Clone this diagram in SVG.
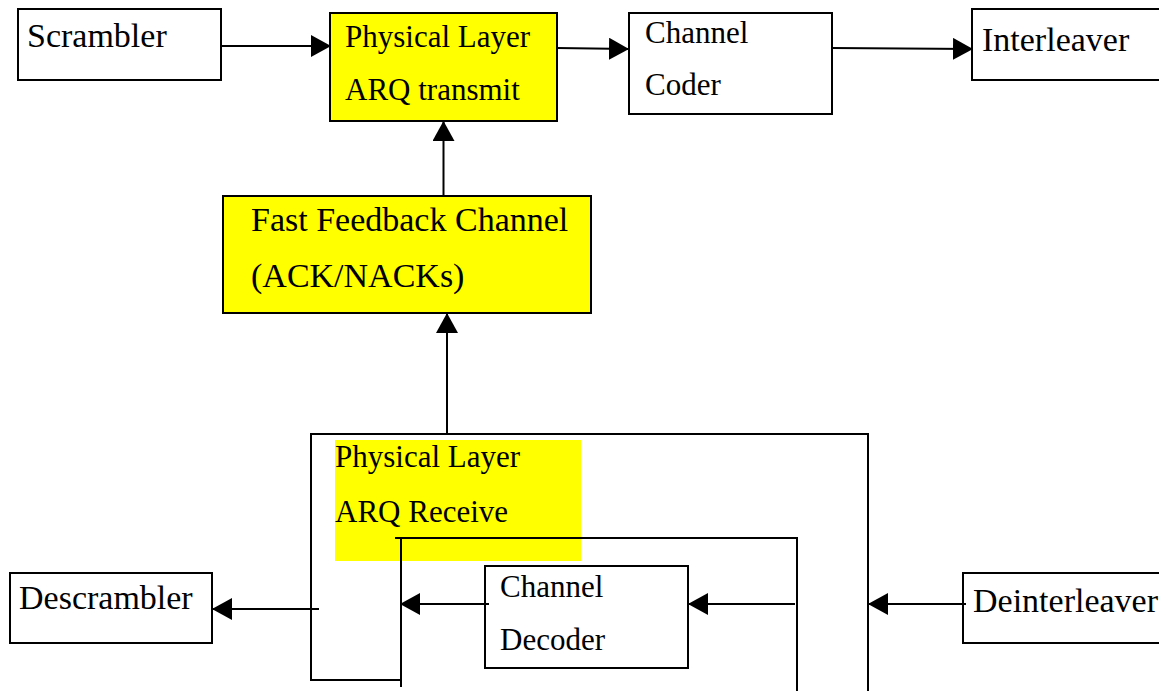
<svg xmlns="http://www.w3.org/2000/svg" width="1159" height="691" viewBox="0 0 1159 691">
<style>
.box{fill:#ffffff;stroke:#000;stroke-width:2}
.ybox{fill:#ffff00;stroke:#000;stroke-width:2}
.t{font-family:"Liberation Serif","Times New Roman",serif;fill:#000}
.big{font-size:34px}
.sm{font-size:31px}
.ln{fill:none;stroke:#000;stroke-width:2}
</style>
<defs>
<marker id="ah" viewBox="0 0 20 22" refX="20" refY="11" markerWidth="20" markerHeight="22" markerUnits="userSpaceOnUse" orient="auto">
<path d="M0,0 L20,11 L0,22 z" fill="#000"/>
</marker>
</defs>
<rect width="1159" height="691" fill="#ffffff"/>
<g id="scrambler">
<rect class="box" x="18" y="9" width="203" height="71"/>
<text class="t big" x="27" y="47">Scrambler</text>
</g>
<g id="pl-arq-transmit">
<rect class="ybox" x="330" y="13" width="227" height="108"/>
<text class="t sm" x="345" y="47">Physical Layer</text>
<text class="t sm" x="345" y="100">ARQ transmit</text>
</g>
<g id="channel-coder">
<rect class="box" x="629" y="13" width="203" height="101"/>
<text class="t sm" x="645" y="43">Channel</text>
<text class="t sm" x="645" y="95">Coder</text>
</g>
<g id="interleaver">
<rect class="box" x="972" y="9" width="195" height="71"/>
<text class="t big" x="982" y="51">Interleaver</text>
</g>
<g id="fast-feedback">
<rect class="ybox" x="223" y="196" width="368" height="117"/>
<text class="t big" x="251" y="231">Fast Feedback Channel</text>
<text class="t big" x="251" y="287">(ACK/NACKs)</text>
</g>
<g id="pl-arq-receive">
<rect x="335" y="440" width="246" height="121" fill="#ffff00"/>
<text class="t sm" x="335" y="467">Physical Layer</text>
<text class="t sm" x="335" y="522">ARQ Receive</text>
<path class="ln" d="M311,680 L311,434 L868,434 L868,691 M310,680 L402,680"/>
<path class="ln" d="M395,538 L797,538 L797,691 M401,538 L401,687"/>
</g>
<g id="channel-decoder">
<rect class="box" x="485" y="566" width="203" height="102"/>
<text class="t sm" x="500" y="597">Channel</text>
<text class="t sm" x="500" y="650">Decoder</text>
</g>
<g id="descrambler">
<rect class="box" x="10" y="573" width="202" height="70"/>
<text class="t big" x="19" y="609">Descrambler</text>
</g>
<g id="deinterleaver">
<rect class="box" x="963" y="573" width="204" height="70"/>
<text class="t big" x="973" y="612">Deinterleaver</text>
</g>
<g id="connectors">
<line class="ln" x1="221" y1="46" x2="331" y2="46" marker-end="url(#ah)"/>
<line class="ln" x1="557" y1="48" x2="629" y2="49" marker-end="url(#ah)"/>
<line class="ln" x1="832" y1="48" x2="973" y2="49" marker-end="url(#ah)"/>
<line class="ln" x1="443.5" y1="196" x2="443.5" y2="121" marker-end="url(#ah)"/>
<line class="ln" x1="447" y1="434" x2="447" y2="313" marker-end="url(#ah)"/>
<line class="ln" x1="319" y1="609" x2="212" y2="609" marker-end="url(#ah)"/>
<line class="ln" x1="489" y1="604" x2="400" y2="604" marker-end="url(#ah)"/>
<line class="ln" x1="795" y1="604" x2="688" y2="604" marker-end="url(#ah)"/>
<line class="ln" x1="966" y1="604" x2="868" y2="604" marker-end="url(#ah)"/>
</g>
</svg>
